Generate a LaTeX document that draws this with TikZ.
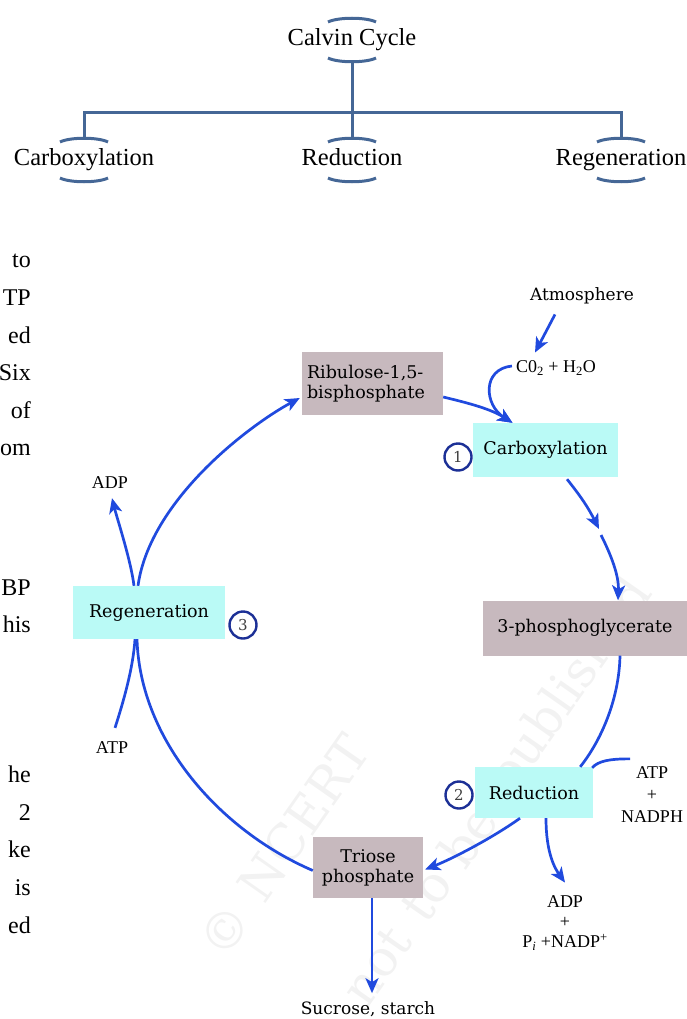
\documentclass[tikz,border=0pt]{standalone}
\usepackage{fontspec}
\setmainfont{Liberation Serif}
\newfontfamily\bookfont{DejaVu Serif}
\usepackage{xcolor}
\usepackage{tikz}
\usetikzlibrary{positioning,arrows.meta}
\definecolor{treeblue}{RGB}{69,103,150}
\definecolor{flowblue}{RGB}{32,74,222}
\definecolor{ringblue}{RGB}{28,48,150}
\definecolor{boxmauve}{RGB}{199,185,190}
\definecolor{boxcyan}{RGB}{186,250,246}

\begin{document}
\begin{tikzpicture}[
  x=1pt, y=1pt,
  tree/.style={draw=treeblue, line width=3pt},
  lbl/.style={inner sep=0pt, font=\fontsize{24.5}{28}\selectfont, text height=17pt, text depth=5pt},
  frag/.style={anchor=base east, inner sep=0pt, font=\fontsize{24}{28}\selectfont},
  flow/.style={draw=flowblue, line width=2.7pt},
  arr/.style={flow, -{Stealth[length=15pt,width=13pt,inset=4pt]}},
  comp/.style={fill=boxmauve, inner sep=0pt, align=center, font=\bookfont\fontsize{17.5}{20}\selectfont},
  stage/.style={fill=boxcyan, inner sep=0pt, font=\bookfont\fontsize{17.5}{20}\selectfont},
  num/.style={draw=ringblue, fill=white, circle, line width=2.4pt, minimum size=27pt, inner sep=0pt, text=black!75, font=\bookfont\fontsize{15}{15}\selectfont},
  chem/.style={inner sep=0pt, align=center, font=\fontsize{18}{20}\selectfont},
  wm/.style={rotate=55, inner sep=0pt, text=black!5, font=\bookfont\fontsize{50}{50}\selectfont}
]
  \useasboundingbox (0,0) rectangle (687,-1019);

  \node[wm] (w1) at (225,-931) {\textcopyright};
  \node[wm] (w2) at (304,-818) {NCERT};
  \node[wm] (w3) at (377,-966) {not};
  \node[wm] (w4) at (427,-895) {to};
  \node[wm] (w5) at (468,-836) {be};
  \node[wm] (w6) at (572,-687) {published};

  \node[lbl] (cc) at (352,-40) {Calvin Cycle};
  \node[lbl] (tc) at (84,-160) {Carboxylation};
  \node[lbl] (tm) at (352,-160) {Reduction};
  \node[lbl] (tg) at (621,-160) {Regeneration};
  \coordinate (bar) at (352,-113);
  \draw[tree] ([yshift=-22pt]cc.center) -- ([yshift=23pt]tm.center);
  \draw[tree] ([yshift=23pt]tc.center) |- (bar) -| ([yshift=23pt]tg.center);
  \foreach \n in {cc,tc,tm,tg} {
    \draw[tree] ([shift={(-24,18)}]\n.center) .. controls +(10,5) and +(-10,5) .. ([shift={(24,18)}]\n.center);
    \draw[tree] ([shift={(-24,-18)}]\n.center) .. controls +(10,-5) and +(-10,-5) .. ([shift={(24,-18)}]\n.center);
  }

  \foreach \w/\y in {to/260,TP/298,ed/336,Six/373,of/411,om/448,BP/588,his/625,he/775,2/813,ke/850,is/888,ed/926}
    \node[frag] (f\y) at (31,-\y-7) {\w};

  \node[comp, minimum width=141pt, minimum height=63pt, align=left, text width=131pt, inner xsep=5pt] (rubp) at (372.5,-383.5) {Ribulose-1,5-\\bisphosphate};
  \node[stage, minimum width=145pt, minimum height=54pt] (carb) at (545.5,-450) {Carboxylation};
  \node[comp, minimum width=204pt, minimum height=55pt] (pga) at (585,-628) {3-phosphoglycerate};
  \node[stage, minimum width=118pt, minimum height=51pt] (red) at (534,-792.5) {Reduction};
  \node[comp, minimum width=110pt, minimum height=61pt] (tri) at (368,-867.5) {Triose\\phosphate};
  \node[stage, minimum width=152pt, minimum height=53pt] (regen) at (149,-612.5) {Regeneration};

  \node[chem, font=\bookfont\fontsize{17}{20}\selectfont] (atm) at (582,-296) {Atmosphere};
  \node[chem] (co2) at (556,-368) {C0\textsubscript{2} + H\textsubscript{2}O};
  \node[chem, font=\fontsize{18}{22}\selectfont] (nadph) at (652,-795) {ATP\\+\\NADPH};
  \node[chem] (adpr) at (565,-923) {ADP\\+\\P\textsubscript{\itshape i} +NADP\textsuperscript{+}};
  \node[chem] (adpl) at (110,-483) {ADP};
  \node[chem] (atpl) at (112,-748) {ATP};
  \node[chem, font=\bookfont\fontsize{17}{20}\selectfont] (sug) at (368,-1009) {Sucrose, starch};

  \coordinate (mid) at (599,-529);
  \draw[arr] ([shift={(-27,-10)}]atm.south) -- ([shift={(-21,8)}]co2.north);
  \draw[arr] ([shift={(-4,2)}]co2.west) .. controls +(-30,-3) and +(-28.5,18) .. ([xshift=-33pt]carb.north);
  \draw[arr] ([yshift=-13.5pt]rubp.east) .. controls +(25,-6) and +(-22,14) .. ([xshift=-33pt]carb.north);
  \draw[arr] ([shift={(21.5,-2)}]carb.south) to[bend left=6] (mid);
  \draw[arr] ([shift={(2,-6)}]mid) .. controls +(10,-20) and +(1,25) .. ([xshift=33pt]pga.north);
  \draw[flow] ([xshift=35pt]pga.south) .. controls +(-1,-45) and +(20,25) .. ([xshift=-13pt]red.north east);
  \draw[flow] ([shift={(-22,8)}]nadph.north) .. controls +(-20,0) and +(6,7) .. ([shift={(-1,-1)}]red.north east);
  \draw[arr] ([xshift=12pt]red.south) .. controls +(0,-35) and +(-10,14) .. ([yshift=13pt]adpr.north);
  \draw[arr] ([xshift=-14pt]red.south) .. controls +(-25,-18) and +(30,12) .. ([shift={(2,-2)}]tri.east);
  \draw[arr] ([xshift=4pt]tri.south) -- ([shift={(4,8)}]sug.north);
  \draw[flow] ([yshift=-3pt]tri.west) .. controls +(-93,40) and +(3,-101) .. ([xshift=-12pt]regen.south);
  \draw[flow] ([shift={(3,14)}]atpl.north) .. controls +(8,25) and +(-2,-30) .. ([xshift=-14pt]regen.south);
  \draw[arr] ([xshift=-15pt]regen.north) .. controls +(-3,25) and +(5,-20) .. ([shift={(2,-9)}]adpl.south);
  \draw[arr] ([xshift=-11pt]regen.north) .. controls +(12,86) and +(-50,-27) .. ([shift={(-2,-14.5)}]rubp.west);

  \node[num] (n1) at (458,-457) {1};
  \node[num] (n2) at (459,-795) {2};
  \node[num] (n3) at (243,-625) {3};
\end{tikzpicture}
\end{document}
